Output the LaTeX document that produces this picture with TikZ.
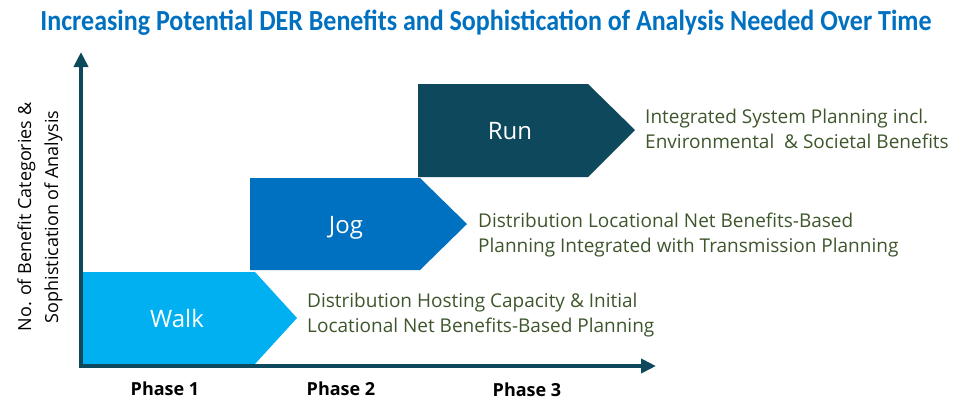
\documentclass[tikz,border=0pt]{standalone}
\usepackage{fontspec}
\setmainfont{Open Sans}
\newfontfamily\titlefont{Carlito}
\usetikzlibrary{arrows.meta,positioning}

\definecolor{axisteal}{RGB}{14,72,92}
\definecolor{walkblue}{RGB}{0,176,240}
\definecolor{jogblue}{RGB}{0,112,192}
\definecolor{runteal}{RGB}{14,72,92}
\definecolor{notegreen}{RGB}{62,86,44}
\definecolor{titleblue}{RGB}{0,112,192}

\begin{document}
\begin{tikzpicture}[x=1pt,y=-1pt,
    stage/.style={text=white, inner sep=0, anchor=base, font=\fontsize{24}{28}\selectfont},
    note/.style={text=notegreen, inner sep=0, anchor=west, align=left, font=\fontsize{19}{25}\selectfont},
    phase/.style={inner sep=0, anchor=base, font=\bfseries\fontsize{18}{22}\selectfont},
    axis/.style={line width=4pt, draw=axisteal, -{Triangle[length=15pt,width=14pt]}}]
    \useasboundingbox (0,0) rectangle (959,400);

    %Title
    \node[inner sep=0, anchor=base, text=titleblue, font=\titlefont\bfseries\fontsize{26}{30}\selectfont, yscale=1.12] (title) at (486,30)
        {Increasing Potential DER Benefits and Sophistication of Analysis Needed Over Time};

    %Walk
    \fill[walkblue] (82,272) -- (255,272) -- (297,318) -- (255,364) -- (82,364) -- cycle;
    \node[stage] (walk) at (177,327) {Walk};
    \node[note] (walknote) at (307,315) {Distribution Hosting Capacity \& Initial\\Locational Net Benefits-Based Planning};

    %Jog
    \fill[jogblue] (250,178) -- (420,178) -- (467,224) -- (420,270) -- (250,270) -- cycle;
    \node[stage] (jog) at (346,233) {Jog};
    \node[note] (jognote) at (478,235) {Distribution Locational Net Benefits-Based\\Planning Integrated with Transmission Planning};

    %Run
    \fill[runteal] (418,84) -- (588,84) -- (635,130) -- (588,177) -- (418,177) -- cycle;
    \node[stage] (run) at (510,139) {Run};
    \node[note] (runnote) at (645,129) {Integrated System Planning incl.\\Environmental \ \& Societal Benefits};

    %Axes
    \coordinate (origin) at (81,366);
    \coordinate (ytip) at (81,52);
    \coordinate (xtip) at (656,366);
    \draw[axis] ([yshift=-2pt]origin) -- (ytip);
    \draw[axis] ([xshift=-2pt]origin) -- (xtip);
    \node[inner sep=0, rotate=90, align=center, font=\fontsize{18}{27}\selectfont] (ylabel) at (40,217)
        {No. of Benefit Categories \&\\Sophistication of Analysis};

    %Phases
    \node[phase] (phaseone) at (165,395) {Phase 1};
    \node[phase] (phasetwo) at (341,395) {Phase 2};
    \node[phase] (phasethree) at (527,396) {Phase 3};
\end{tikzpicture}
\end{document}
